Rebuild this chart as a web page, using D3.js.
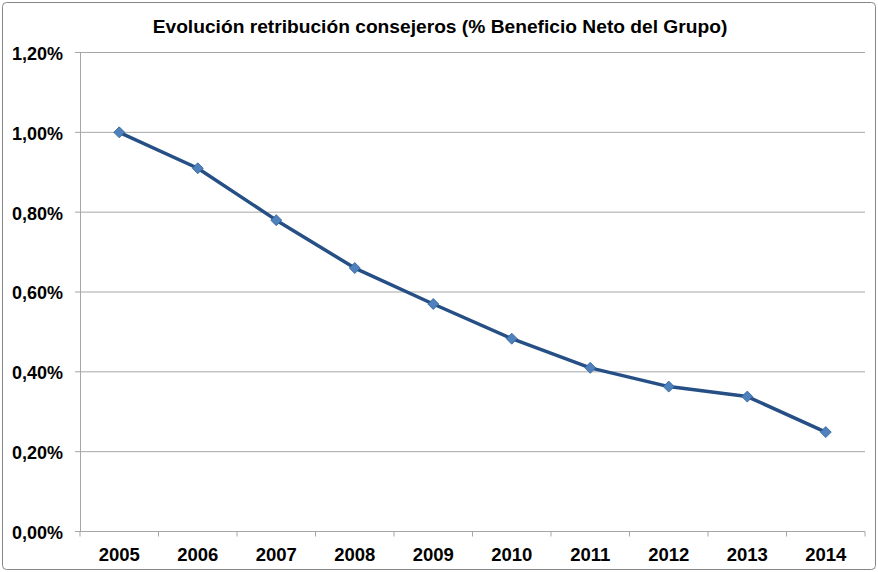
<!DOCTYPE html>
<html>
<head>
<meta charset="utf-8">
<script src="https://cdn.jsdelivr.net/npm/d3@7"></script>
<style>
  body { margin: 0; background: #fff; }
  text { font-family: "Liberation Sans", Arial, sans-serif; font-weight: bold; fill: #000; }
</style>
</head>
<body>
<div id="chart"></div>
<script>
// data
var years = ["2005", "2006", "2007", "2008", "2009", "2010", "2011", "2012", "2013", "2014"];
var values = [1.00, 0.91, 0.78, 0.66, 0.57, 0.483, 0.41, 0.363, 0.338, 0.249];
var yTicks = [0, 0.2, 0.4, 0.6, 0.8, 1.0, 1.2];
var title = "Evolución retribución consejeros (% Beneficio Neto del Grupo)";

var W = 878, H = 572;
var margin = {top: 52.5, right: 13, bottom: 40.5, left: 80},
    width = W - margin.left - margin.right,
    height = H - margin.top - margin.bottom;

var root = d3.select("#chart")
  .append("svg")
    .attr("width", W)
    .attr("height", H);

// outer frame
root.append("rect")
    .attr("x", 2.5).attr("y", 2.5)
    .attr("width", W - 5).attr("height", H - 5)
    .attr("rx", 4)
    .attr("fill", "#fff")
    .attr("stroke", "#868686")
    .attr("stroke-width", 1);

root.append("text")
    .attr("x", 440)
    .attr("y", 33)
    .attr("text-anchor", "middle")
    .style("font-size", "19.2px")
    .text(title);

var svg = root.append("g")
    .attr("transform", "translate(" + margin.left + "," + margin.top + ")");

var x = d3.scaleBand().domain(years).range([0, width]);
var y = d3.scaleLinear().domain([0, 1.2]).range([height, 0]);

// gridlines
svg.selectAll(".grid")
  .data(yTicks)
  .enter().append("line")
    .attr("x1", -5)
    .attr("x2", width)
    .attr("y1", function(d) { return y(d); })
    .attr("y2", function(d) { return y(d); })
    .attr("stroke", "#a6a6a6")
    .attr("stroke-width", 1);

// y axis
var yAxis = svg.append("g")
    .call(d3.axisLeft(y).tickValues(yTicks).tickSize(0).tickPadding(17)
      .tickFormat(function(d) { return d.toFixed(2).replace(".", ",") + "%"; }));
yAxis.select(".domain").attr("stroke", "#a6a6a6");
yAxis.selectAll("text").style("font-size", "18px").attr("fill", "#000").attr("dy", "0.38em");

// x axis
var xAxis = svg.append("g")
    .attr("transform", "translate(0," + height + ")")
    .call(d3.axisBottom(x).tickSize(0).tickPadding(16));
xAxis.select(".domain").remove();
xAxis.selectAll("text").style("font-size", "18.5px").attr("fill", "#000");

// category tick marks between bands
svg.selectAll(".xtick")
  .data(years.concat(["end"]))
  .enter().append("line")
    .attr("x1", function(d, i) { return i * x.step(); })
    .attr("x2", function(d, i) { return i * x.step(); })
    .attr("y1", height)
    .attr("y2", height + 5)
    .attr("stroke", "#a6a6a6");

// line
var pts = years.map(function(yr, i) { return {year: yr, value: values[i]}; });
svg.append("path")
    .datum(pts)
    .attr("fill", "none")
    .attr("stroke", "#254f85")
    .attr("stroke-width", 3.5)
    .attr("stroke-linejoin", "round")
    .attr("d", d3.line()
      .x(function(d) { return x(d.year) + x.bandwidth() / 2; })
      .y(function(d) { return y(d.value); }));

// diamond markers
svg.selectAll(".pt")
  .data(pts)
  .enter().append("path")
    .attr("transform", function(d) {
      return "translate(" + (x(d.year) + x.bandwidth() / 2) + "," + y(d.value) + ")";
    })
    .attr("d", "M0,-5.5L5.5,0L0,5.5L-5.5,0Z")
    .attr("fill", "#4f81bd")
    .attr("stroke", "#2f5f97")
    .attr("stroke-width", 0.8);
</script>
</body>
</html>
